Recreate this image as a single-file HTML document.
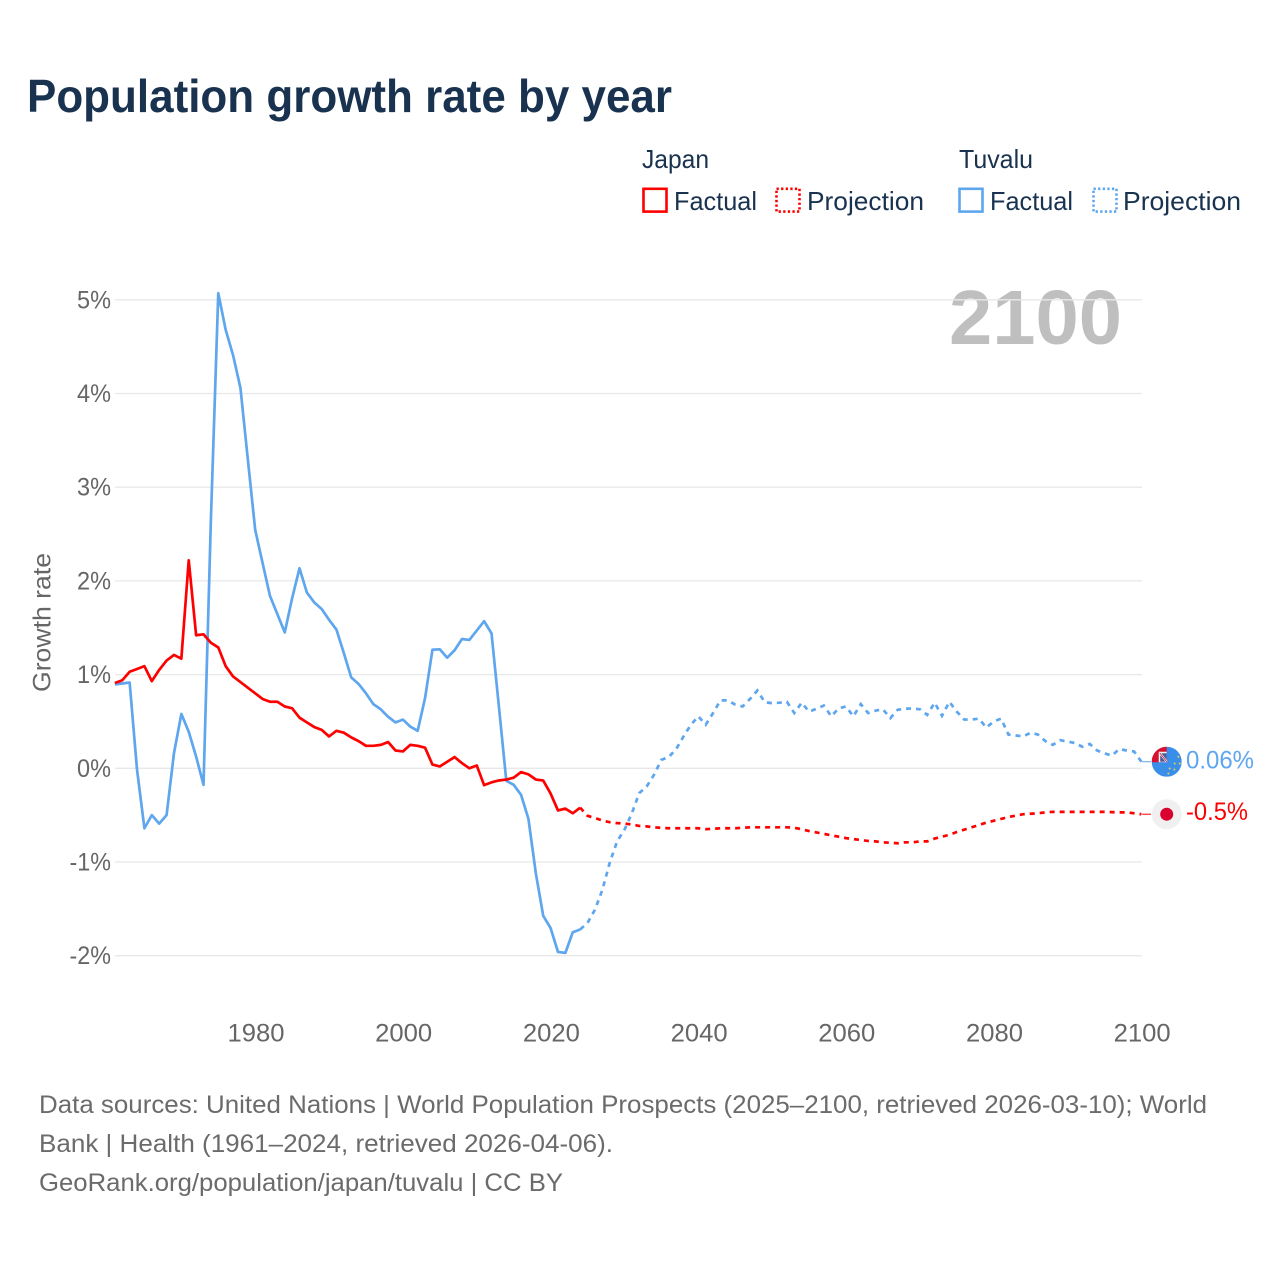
<!DOCTYPE html>
<html lang="en">
<head>
<meta charset="utf-8">
<title>Population growth rate by year</title>
<style>
  html,body{margin:0;padding:0;background:#fff;}
  svg{display:block;font-family:"Liberation Sans",sans-serif;}
</style>
</head>
<body>
<svg id="chart" xmlns="http://www.w3.org/2000/svg" width="1280" height="1280" viewBox="0 0 1280 1280">
  <rect x="0" y="0" width="1280" height="1280" fill="#ffffff"/>
  <text x="27" y="112" font-size="46" font-weight="700" fill="#19324f" textLength="645" lengthAdjust="spacingAndGlyphs">Population growth rate by year</text>

  <g font-size="26" fill="#19324f">
    <text x="642" y="168" textLength="67" lengthAdjust="spacingAndGlyphs">Japan</text>
    <rect x="643.5" y="188.8" width="23" height="22.8" fill="none" stroke="#ff0000" stroke-width="2.6"/>
    <text x="674" y="210" textLength="83" lengthAdjust="spacingAndGlyphs">Factual</text>
    <rect x="776.5" y="188.8" width="23" height="22.8" fill="none" stroke="#ff0000" stroke-width="2.6" stroke-dasharray="2.3 2.3"/>
    <text x="807" y="210" textLength="117" lengthAdjust="spacingAndGlyphs">Projection</text>
    <text x="959" y="168" textLength="74" lengthAdjust="spacingAndGlyphs">Tuvalu</text>
    <rect x="959.5" y="188.8" width="23" height="22.8" fill="none" stroke="#5ea6ee" stroke-width="2.6"/>
    <text x="990" y="210" textLength="83" lengthAdjust="spacingAndGlyphs">Factual</text>
    <rect x="1093.5" y="188.8" width="23" height="22.8" fill="none" stroke="#5ea6ee" stroke-width="2.6" stroke-dasharray="2.3 2.3"/>
    <text x="1123" y="210" textLength="118" lengthAdjust="spacingAndGlyphs">Projection</text>
  </g>

  <text x="949" y="344" font-size="77" font-weight="700" fill="#000000" fill-opacity="0.25" textLength="173" lengthAdjust="spacingAndGlyphs">2100</text>

  <g id="grid"></g>
  <g id="yaxis"></g>
  <g id="xaxis"></g>
  <text transform="translate(50.5 692) rotate(-90)" x="0" y="0" font-size="25" fill="#666666" textLength="139" lengthAdjust="spacingAndGlyphs">Growth rate</text>
  <g id="series"></g>
  <g id="ends"></g>

  <g font-size="25" fill="#6b6b6b">
    <text x="39" y="1113" textLength="1168" lengthAdjust="spacingAndGlyphs">Data sources: United Nations | World Population Prospects (2025–2100, retrieved 2026-03-10); World</text>
    <text x="39" y="1152" textLength="574" lengthAdjust="spacingAndGlyphs">Bank | Health (1961–2024, retrieved 2026-04-06).</text>
    <text x="39" y="1191" textLength="524" lengthAdjust="spacingAndGlyphs">GeoRank.org/population/japan/tuvalu | CC BY</text>
  </g>
</svg>
<script>
const factualFirstYear = 1961;
const projectionFirstYear = 2024;
const xTickYears = [1980, 2000, 2020, 2040, 2060, 2080, 2100];
const yTickValues = [5, 4, 3, 2, 1, 0, -1, -2];
const yTickLabels = ["5%", "4%", "3%", "2%", "1%", "0%", "-1%", "-2%"];

const japanFactual = [0.91,0.94,1.03,1.06,1.09,0.93,1.05,1.15,1.21,1.17,2.22,1.42,1.43,1.34,1.29,1.09,0.98,0.92,0.86,0.80,0.74,0.71,0.71,0.66,0.64,0.54,0.49,0.44,0.41,0.34,0.40,0.38,0.33,0.29,0.24,0.24,0.25,0.28,0.19,0.18,0.25,0.24,0.22,0.04,0.02,0.07,0.12,0.055,0,0.03,-0.18,-0.15,-0.13,-0.12,-0.10,-0.04,-0.065,-0.12,-0.13,-0.27,-0.45,-0.43,-0.48,-0.42];

const tuvaluFactual = [0.895,0.905,0.915,-0.016,-0.64,-0.50,-0.59,-0.50,0.16,0.58,0.39,0.125,-0.176,2.65,5.07,4.68,4.41,4.06,3.3,2.545,2.19,1.84,1.645,1.45,1.815,2.135,1.875,1.77,1.70,1.585,1.48,1.23,0.97,0.90,0.80,0.685,0.63,0.55,0.49,0.52,0.445,0.40,0.75,1.265,1.27,1.18,1.26,1.38,1.37,1.47,1.57,1.44,0.66,-0.133,-0.176,-0.283,-0.54,-1.12,-1.574,-1.705,-1.96,-1.97,-1.75,-1.72];

const japanProjection = [-0.42,-0.507,-0.53,-0.557,-0.575,-0.585,-0.59,-0.60,-0.615,-0.62,-0.63,-0.635,-0.64,-0.64,-0.64,-0.64,-0.64,-0.65,-0.645,-0.64,-0.64,-0.64,-0.635,-0.63,-0.63,-0.63,-0.63,-0.63,-0.63,-0.635,-0.65,-0.67,-0.685,-0.70,-0.715,-0.73,-0.745,-0.755,-0.766,-0.775,-0.78,-0.79,-0.795,-0.80,-0.79,-0.79,-0.78,-0.78,-0.75,-0.73,-0.71,-0.68,-0.655,-0.63,-0.605,-0.58,-0.56,-0.54,-0.52,-0.505,-0.49,-0.485,-0.48,-0.47,-0.465,-0.465,-0.465,-0.465,-0.465,-0.465,-0.465,-0.465,-0.468,-0.47,-0.47,-0.48,-0.49];

const tuvaluProjection = [-1.72,-1.65,-1.51,-1.30,-1.01,-0.78,-0.656,-0.48,-0.265,-0.195,-0.07,0.09,0.12,0.205,0.34,0.465,0.555,0.465,0.59,0.725,0.725,0.68,0.66,0.74,0.83,0.705,0.695,0.70,0.71,0.59,0.70,0.605,0.635,0.67,0.555,0.64,0.66,0.555,0.685,0.59,0.615,0.63,0.535,0.625,0.635,0.64,0.63,0.57,0.70,0.56,0.71,0.605,0.52,0.52,0.53,0.435,0.50,0.53,0.36,0.35,0.34,0.38,0.36,0.29,0.25,0.30,0.285,0.27,0.23,0.26,0.19,0.16,0.135,0.205,0.19,0.18,0.07];

const endLabels = ["-0.5%", "0.06%"];

const NS = "http://www.w3.org/2000/svg";
const xScale = function (year) { return 255.2 + (year - 1980) * 7.385; };
const yScale = function (value) { return 768.3 - value * 93.7; };

function svgEl(tag, attrs, parent) {
  const el = document.createElementNS(NS, tag);
  for (const key in attrs) { el.setAttribute(key, attrs[key]); }
  parent.appendChild(el);
  return el;
}

function linePoints(values, firstYear) {
  return values.map(function (v, i) {
    return xScale(firstYear + i).toFixed(2) + "," + yScale(v).toFixed(2);
  }).join(" ");
}

const gridGroup = document.getElementById("grid");
const yGroup = document.getElementById("yaxis");
yTickValues.forEach(function (value, i) {
  const line = svgEl("line", {x1: 115, x2: 1142, y1: yScale(value), y2: yScale(value), stroke: "#e8e8e8", "stroke-width": 1.3}, gridGroup);
  
  
  const label = yTickLabels[i];
  const width = label.length > 2 ? 41.5 : 34;
  const text = svgEl("text", {x: 111 - width, y: yScale(value) + 8.5, "font-size": 25, fill: "#666666", textLength: width, lengthAdjust: "spacingAndGlyphs"}, yGroup);
  
  
  text.textContent = label;
});

const xGroup = document.getElementById("xaxis");
xTickYears.forEach(function (year) {
  const text = svgEl("text", {x: xScale(year) + 0.8 - 28.5, y: 1041.5, "font-size": 25, fill: "#666666", textLength: 57, lengthAdjust: "spacingAndGlyphs"}, xGroup);
  
  
  text.textContent = String(year);
});

const RED = "#ff0000";
const BLUE = "#5ea6ee";
const seriesGroup = document.getElementById("series");

const tuvaluFactualLine = svgEl("polyline", {points: linePoints(tuvaluFactual, factualFirstYear), fill: "none", stroke: BLUE, "stroke-width": 2.7, "stroke-linejoin": "round"}, seriesGroup);



const tuvaluProjectionLine = svgEl("polyline", {points: linePoints(tuvaluProjection, projectionFirstYear), fill: "none", stroke: BLUE, "stroke-width": 2.7, "stroke-dasharray": "5 5"}, seriesGroup);



const japanFactualLine = svgEl("polyline", {points: linePoints(japanFactual, factualFirstYear), fill: "none", stroke: RED, "stroke-width": 2.7, "stroke-linejoin": "round"}, seriesGroup);



const japanProjectionLine = svgEl("polyline", {points: linePoints(japanProjection, projectionFirstYear), fill: "none", stroke: RED, "stroke-width": 2.7, "stroke-dasharray": "5 5"}, seriesGroup);



const endsGroup = document.getElementById("ends");
const lastJapan = japanProjection[japanProjection.length - 1];
const lastTuvalu = tuvaluProjection[tuvaluProjection.length - 1];
const markerX = 1166.7;

const japanConnector = svgEl("line", {x1: xScale(2100) + 0.8, x2: 1151, y1: yScale(lastJapan), y2: yScale(lastJapan), stroke: RED, "stroke-width": 1}, endsGroup);



const tuvaluConnector = svgEl("line", {x1: xScale(2100) + 0.8, x2: 1151, y1: yScale(lastTuvalu), y2: yScale(lastTuvalu), stroke: BLUE, "stroke-width": 1}, endsGroup);



const japanFlag = svgEl("g", {transform: "translate(" + markerX + " " + yScale(lastJapan) + ")"}, endsGroup);


svgEl("circle", {cx: 0, cy: 0, r: 15, fill: "#f0f0f1"}, japanFlag);
svgEl("circle", {cx: 0, cy: 0, r: 6.5, fill: "#d9002f"}, japanFlag);

const tuvaluFlag = svgEl("g", {transform: "translate(" + markerX + " " + yScale(lastTuvalu) + ")"}, endsGroup);


const clip = svgEl("clipPath", {id: "flag-clip"}, tuvaluFlag);
svgEl("circle", {cx: 0, cy: 0, r: 15}, clip);
const flagBody = svgEl("g", {"clip-path": "url(#flag-clip)"}, tuvaluFlag);
svgEl("rect", {x: -15, y: -15, width: 30, height: 30, fill: "#388ee9"}, flagBody);
svgEl("rect", {x: -15, y: -15.5, width: 15, height: 16, fill: "#d8112f"}, flagBody);
svgEl("rect", {x: -8, y: -10, width: 8, height: 10.5, fill: "#f4f4f4"}, flagBody);
svgEl("rect", {x: -6.5, y: -8.5, width: 6.5, height: 8.5, fill: "#44609c"}, flagBody);
svgEl("line", {x1: -7, y1: -9, x2: 0, y2: 0, stroke: "#ffffff", "stroke-width": 2}, flagBody);
svgEl("line", {x1: -7, y1: -9, x2: 0, y2: 0, stroke: "#d8112f", "stroke-width": 0.8}, flagBody);
const starDots = [[11.7,-5],[8,1.7],[13,1.7],[3,6.7],[7.7,7.7],[1.7,11.7]];
starDots.forEach(function (d) {
  svgEl("circle", {cx: d[0], cy: d[1], r: 1, fill: "#e6d24a"}, flagBody);
});

const japanValue = svgEl("text", {x: 1186, y: 820, "font-size": 25, fill: RED, textLength: 62, lengthAdjust: "spacingAndGlyphs"}, endsGroup);


japanValue.textContent = endLabels[0];

const tuvaluValue = svgEl("text", {x: 1186, y: 768.5, "font-size": 25, fill: BLUE, textLength: 68, lengthAdjust: "spacingAndGlyphs"}, endsGroup);


tuvaluValue.textContent = endLabels[1];
</script>
</body>
</html>
